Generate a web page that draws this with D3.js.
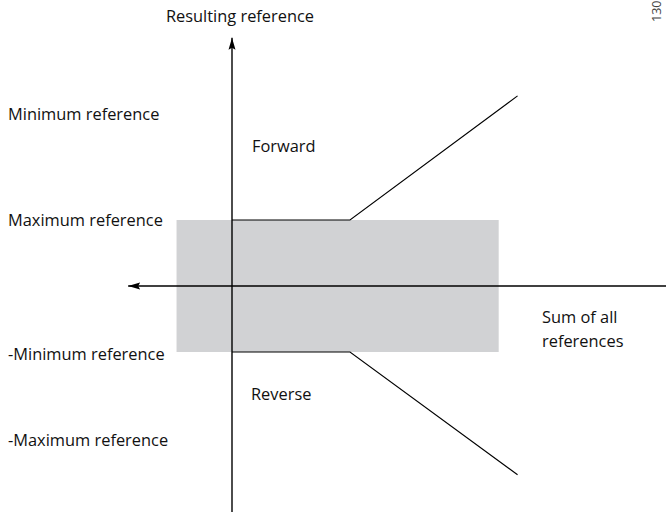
<!DOCTYPE html>
<html>
<head>
<meta charset="utf-8">
<script src="https://cdn.jsdelivr.net/npm/d3@7"></script>
<style>
  body { margin: 0; background: #fff; }
  text { font-family: "Open Sans", sans-serif; font-size: 16.4px; fill: #111; }
</style>
</head>
<body>
<svg id="chart" width="666" height="512"></svg>
<script>
// level labels on the left and their value on the y scale
const levelLabels = ['Minimum reference', 'Maximum reference', '-Minimum reference', '-Maximum reference']
const levelValues = [2.6, 1.0, -1.03, -2.33]

// the two output branches (x = sum of references, y = resulting reference)
const forwardX = [0, 1, 2.42]
const forwardY = [1, 1, 2.88]
const reverseX = [0, 1, 2.42]
const reverseY = [-1, -1, -2.86]

// grey dead band
const bandX = [-0.47, 2.26]
const bandY = [-1, 1]

// axis extents
const xAxisExtent = [-0.88, 3.78]
const yAxisExtent = [-3.45, 3.76]

const svg = d3.select('#chart')

const x = d3.scaleLinear().domain([0, 1]).range([232, 350])
const y = d3.scaleLinear().domain([-1, 1]).range([352, 220])

// Arrow head
svg.append('defs').append('marker')
    .attr('id', 'arrow')
    .attr('viewBox', '0 -4 12 8')
    .attr('refX', 12).attr('refY', 0)
    .attr('markerUnits', 'userSpaceOnUse')
    .attr('markerWidth', 12).attr('markerHeight', 8)
    .attr('orient', 'auto-start-reverse')
    .append('path')
    .attr('d', 'M0,-3.5 L12,0 L0,3.5 L2,0 Z')
    .attr('fill', '#000')

// Band
svg.append('rect')
    .attr('x', x(bandX[0]))
    .attr('y', y(bandY[1]))
    .attr('width', x(bandX[1]) - x(bandX[0]))
    .attr('height', y(bandY[0]) - y(bandY[1]))
    .attr('fill', '#d1d2d4')

// Axes
svg.append('line')
    .attr('x1', x(xAxisExtent[0])).attr('x2', x(xAxisExtent[1]))
    .attr('y1', y(0)).attr('y2', y(0))
    .attr('stroke', '#000').attr('stroke-width', 1.4)
    .attr('marker-start', 'url(#arrow)')
    .attr('marker-end', 'url(#arrow)')

svg.append('line')
    .attr('x1', x(0)).attr('x2', x(0))
    .attr('y1', y(yAxisExtent[0])).attr('y2', y(yAxisExtent[1]))
    .attr('stroke', '#000').attr('stroke-width', 1.4)
    .attr('marker-end', 'url(#arrow)')

// Branches
const line = d3.line()
    .x(d => x(d[0]))
    .y(d => y(d[1]))

svg.append('path')
    .datum(d3.zip(forwardX, forwardY))
    .attr('d', line)
    .attr('fill', 'none').attr('stroke', '#000').attr('stroke-width', 1.1)

svg.append('path')
    .datum(d3.zip(reverseX, reverseY))
    .attr('d', line)
    .attr('fill', 'none').attr('stroke', '#000').attr('stroke-width', 1.1)

// Level labels
svg.selectAll('.level')
    .data(d3.zip(levelLabels, levelValues))
    .join('text').classed('level', true)
    .attr('x', 8)
    .attr('y', d => y(d[1]))
    .attr('dy', '0.35em')
    .text(d => d[0])

// Other labels
svg.append('text')
    .attr('x', 240).attr('y', 22)
    .attr('text-anchor', 'middle')
    .text('Resulting reference')

svg.append('text')
    .attr('x', 252).attr('y', 152)
    .text('Forward')

svg.append('text')
    .attr('x', 251).attr('y', 400)
    .text('Reverse')

const sum = svg.append('text').attr('x', 542).attr('y', 323)
sum.append('tspan').text('Sum of all')
sum.append('tspan').attr('x', 542).attr('y', 347).text('references')

// figure id, cut off at the top edge as in the source
svg.append('text')
    .attr('transform', 'translate(661,22) rotate(-90)')
    .style('font-size', '12.5px')
    .style('fill', '#444')
    .text('130BA185.10')
</script>
</body>
</html>
